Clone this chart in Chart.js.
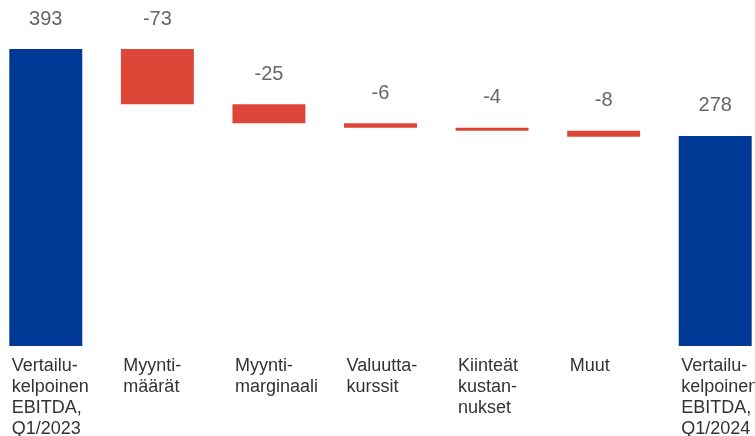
<!DOCTYPE html>
<html>
<head>
<meta charset="utf-8">
<script src="https://cdn.jsdelivr.net/npm/chart.js@4.4.1/dist/chart.umd.min.js"></script>
<style>
html,body{margin:0;padding:0;background:#fff;}
#wrap{position:relative;width:755px;height:436px;overflow:hidden;}
#box{position:absolute;left:-10px;top:0;width:781px;height:436px;}
</style>
</head>
<body>
<div id="wrap"><div id="box"><canvas id="c"></canvas></div></div>
<script>
const categories = [
  ["Vertailu-","kelpoinen","EBITDA,","Q1/2023"],
  ["Myynti-","määrät"],
  ["Myynti-","marginaali"],
  ["Valuutta-","kurssit"],
  ["Kiinteät","kustan-","nukset"],
  ["Muut"],
  ["Vertailu-","kelpoinen","EBITDA,","Q1/2024"]
];
const startValue = 393;
const changes = [-73, -25, -6, -4, -8];
const endValue = 278;
const valueLabels = ["393","-73","-25","-6","-4","-8","278"];
const BLUE = "#003a96", RED = "#dd4537";

// build floating bars for waterfall
const ranges = [[0, startValue]];
const colors = [BLUE];
let run = startValue;
for (const d of changes) {
  ranges.push([run + d, run]);
  colors.push(RED);
  run += d;
}
ranges.push([0, endValue]);
colors.push(BLUE);

const valueLabelPlugin = {
  id: 'valueLabels',
  afterDatasetsDraw(chart) {
    const ctx = chart.ctx;
    const meta = chart.getDatasetMeta(0);
    ctx.save();
    ctx.font = '20px "Liberation Sans", Arial, sans-serif';
    ctx.fillStyle = '#666666';
    ctx.textAlign = 'center';
    ctx.textBaseline = 'middle';
    meta.data.forEach((el, i) => {
      const top = Math.min(el.y, el.base);
      ctx.fillText(valueLabels[i], el.x, top - 30);
    });
    ctx.restore();
  }
};

new Chart(document.getElementById('c'), {
  type: 'bar',
  data: {
    labels: categories,
    datasets: [{
      data: ranges,
      backgroundColor: colors,
      borderWidth: 0,
      categoryPercentage: 1.0,
      barPercentage: 0.654
    }]
  },
  options: {
    responsive: true,
    maintainAspectRatio: false,
    animation: false,
    layout: { padding: { top: 0, left: 0, right: 0, bottom: -14 } },
    plugins: { legend: { display: false }, tooltip: { enabled: false } },
    scales: {
      x: {
        grid: { display: false, drawTicks: false },
        border: { display: false },
        afterFit(scale) { scale.paddingLeft = 0; scale.paddingRight = 0; },
        ticks: {
          align: 'start',
          labelOffset: -34,
          padding: 10,
          maxRotation: 0,
          autoSkip: false,
          color: '#333333',
          font: { family: '"Liberation Sans", Arial, sans-serif', size: 18, lineHeight: 1.167 }
        }
      },
      y: {
        display: false,
        min: 0,
        max: 458
      }
    }
  },
  plugins: [valueLabelPlugin]
});
</script>
</body>
</html>
